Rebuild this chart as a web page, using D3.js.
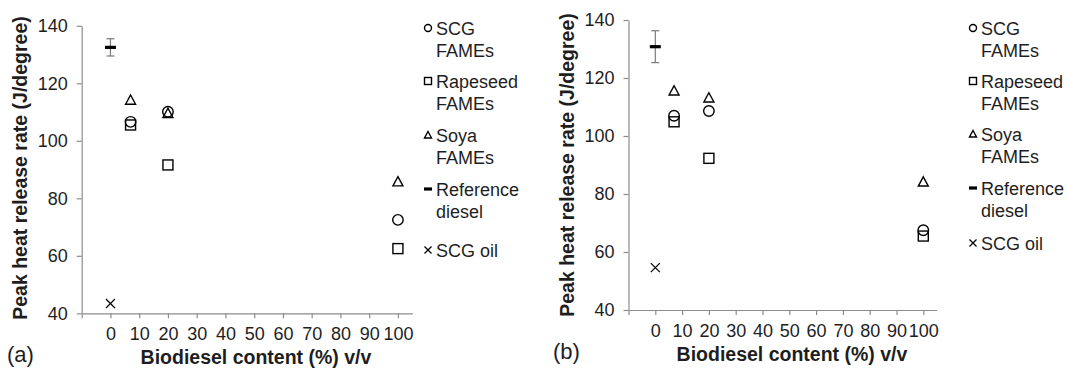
<!DOCTYPE html>
<html><head><meta charset="utf-8">
<script src="https://cdn.jsdelivr.net/npm/d3@7"></script>
<style>body{margin:0;background:#fff} svg{display:block;font-family:"Liberation Sans",Arial,sans-serif}</style>
</head><body><svg id="c" width="1067" height="368"></svg>
<script>
// ---------- data ----------
const xTickValues = [0,10,20,30,40,50,60,70,80,90,100];
const yTickValues = [40,60,80,100,120,140];
const blendX = [7,20,100];
const baseX = [0];
// panel (a)
const scgFamesA = [106.6,110.1,72.5];
const rapeseedA = [105.5,91.6,62.5];
const soyaA     = [114.2,109.6,85.8];
const refDieselA = [132.5];
const refErrA    = [3.0];
const scgOilA    = [43.4];
// panel (b)
const scgFamesB = [107.0,108.6,67.5];
const rapeseedB = [104.9,92.3,65.5];
const soyaB     = [115.6,113.2,84.2];
const refDieselB = [130.8];
const refErrB    = [5.5];
const scgOilB    = [54.6];
const legendLabels = [["SCG","FAMEs"],["Rapeseed","FAMEs"],["Soya","FAMEs"],["Reference","diesel"],["SCG oil"]];
const legendKinds = ["circle","square","triangle","dash","cross"];
const panelLabels = ["(a)","(b)"];
const xTitle = "Biodiesel content (%) v/v";
const yTitle = "Peak heat release rate (J/degree)";

const svg = d3.select("#c");
const AX = "#8c8c8c", TXT = "#1e1e1e";

function marker(g, kind, cx, cy, s){
  const sw = 1.4;
  if(kind==="circle") g.append("circle").attr("cx",cx).attr("cy",cy).attr("r",s/2).attr("fill","none").attr("stroke","#000").attr("stroke-width",sw);
  else if(kind==="square") g.append("rect").attr("x",cx-s/2).attr("y",cy-s/2).attr("width",s).attr("height",s).attr("fill","none").attr("stroke","#000").attr("stroke-width",sw);
  else if(kind==="triangle") g.append("path").attr("d",`M${cx},${cy-s/2}L${cx+s/2},${cy+s/2*0.85}L${cx-s/2},${cy+s/2*0.85}Z`).attr("fill","none").attr("stroke","#000").attr("stroke-width",sw);
  else if(kind==="cross") g.append("path").attr("d",`M${cx-s/2},${cy-s/2}L${cx+s/2},${cy+s/2}M${cx-s/2},${cy+s/2}L${cx+s/2},${cy-s/2}`).attr("stroke","#000").attr("stroke-width",sw*0.9);
  else if(kind==="dash") g.append("line").attr("x1",cx-s/2).attr("x2",cx+s/2).attr("y1",cy).attr("y2",cy).attr("stroke","#000").attr("stroke-width",3.2);
}

function panel(cfg){
  const g = svg.append("g");
  const x = d3.scaleLinear().domain([-10,105]).range([cfg.x0,cfg.x1]);
  const y = d3.scaleLinear().domain([40,140]).range([cfg.yBot,cfg.yTop]);
  const xa = g.append("g").attr("transform",`translate(0,${cfg.yBot})`)
    .call(d3.axisBottom(x).tickValues([-10].concat(xTickValues)).tickSizeInner(5).tickSizeOuter(0).tickPadding(9)
      .tickFormat(d=> d<0 ? "" : d));
  const ya = g.append("g").attr("transform",`translate(${cfg.x0},0)`)
    .call(d3.axisLeft(y).tickValues(yTickValues).tickSizeInner(5).tickSizeOuter(0).tickPadding(9));
  [xa,ya].forEach(a=>{
    a.select(".domain").attr("stroke",AX).attr("stroke-width",1.2);
    a.selectAll(".tick line").attr("stroke",AX).attr("stroke-width",1.2);
    a.selectAll(".tick text").attr("fill",TXT).attr("font-size",cfg.fs).attr("font-family","Liberation Sans, Arial, sans-serif");
  });
  xa.selectAll(".tick text").attr("dy","0.71em");
  // error bar
  const ex = x(baseX[0]);
  const eb = g.append("g").attr("stroke","#7a7a7a").attr("stroke-width",1.2);
  eb.append("line").attr("x1",ex).attr("x2",ex).attr("y1",y(cfg.ref[0]-cfg.err[0])).attr("y2",y(cfg.ref[0]+cfg.err[0]));
  [cfg.ref[0]-cfg.err[0], cfg.ref[0]+cfg.err[0]].forEach(v=>eb.append("line").attr("x1",ex-4).attr("x2",ex+4).attr("y1",y(v)).attr("y2",y(v)));
  const m = g.append("g");
  marker(m,"dash",x(baseX[0]),y(cfg.ref[0]),11);
  marker(m,"cross",x(baseX[0]),y(cfg.oil[0]),9);
  blendX.forEach((bx,i)=>{
    marker(m,"square",x(bx),y(cfg.rape[i]),10);
    marker(m,"circle",x(bx),y(cfg.scg[i]),10.5);
    marker(m,"triangle",x(bx),y(cfg.soya[i]),10);
  });
  // titles
  g.append("text").attr("transform",`translate(${cfg.yTitleX},${cfg.yTitleY}) rotate(-90)`)
    .attr("text-anchor","middle").attr("font-weight","bold").attr("font-size",19.5).attr("fill",TXT).text(yTitle);
  g.append("text").attr("x",cfg.xTitleX).attr("y",cfg.xTitleY).attr("text-anchor","middle")
    .attr("font-weight","bold").attr("font-size",19.5).attr("fill",TXT).text(xTitle);
  g.append("text").attr("x",cfg.pLabX).attr("y",cfg.pLabY).attr("font-size",22).attr("fill",TXT).text(cfg.plab);
  // legend
  const lg = g.append("g");
  legendLabels.forEach((lines,i)=>{
    const yc = cfg.legY[i];
    marker(lg,legendKinds[i],cfg.legMx,yc, legendKinds[i]==="dash"?8:7);
    lines.forEach((t,j)=>{
      lg.append("text").attr("x",cfg.legTx).attr("y",yc+6.5+j*22).attr("font-size",18).attr("fill",TXT).text(t);
    });
  });
}

panel({x0:81.7,x1:412.3,yTop:25.8,yBot:313.3,fs:18,
  scg:scgFamesA,rape:rapeseedA,soya:soyaA,ref:refDieselA,err:refErrA,oil:scgOilA,
  yTitleX:27,yTitleY:168,xTitleX:256,xTitleY:364,pLabX:7,pLabY:362,plab:panelLabels[0],
  legMx:428,legTx:436,legY:[28,81,135,189,250]});
panel({x0:628.5,x1:936.7,yTop:20,yBot:310,fs:18,
  scg:scgFamesB,rape:rapeseedB,soya:soyaB,ref:refDieselB,err:refErrB,oil:scgOilB,
  yTitleX:574,yTitleY:165,xTitleX:792,xTitleY:361,pLabX:553,pLabY:359,plab:panelLabels[1],
  legMx:973,legTx:981,legY:[28,81,134,188,243]});
</script></body></html>
